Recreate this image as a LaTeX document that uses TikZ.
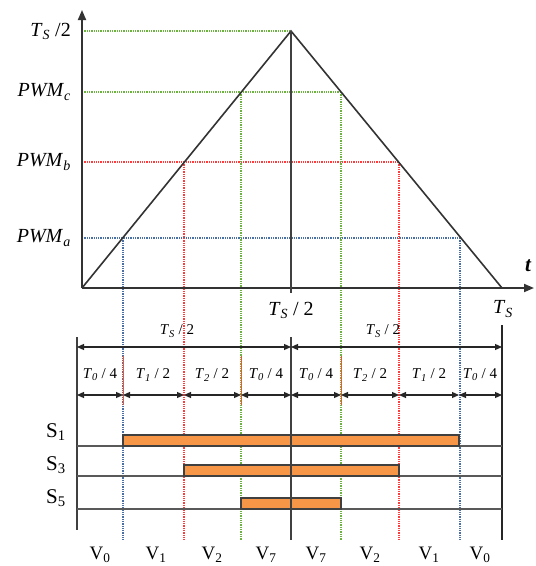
\documentclass[tikz,border=0pt]{standalone}
\usepackage{fontspec}
\setmainfont{Liberation Serif}
\usepackage{graphicx}
\usetikzlibrary{arrows.meta}
\definecolor{gline}{HTML}{6DB33F}
\definecolor{rline}{HTML}{FF3B3B}
\definecolor{bline}{HTML}{4A6FA5}
\definecolor{obar}{HTML}{F79646}
\newcommand\isub[2]{\textit{#1}\textsubscript{\textit{#2}}}
\begin{document}
\begin{tikzpicture}[x=1pt,y=-1pt,
  axisline/.style={line width=1.8pt, draw=black!80, -{Triangle[length=10pt,width=8pt]}},
  tri/.style={line width=1.6pt, draw=black!80},
  guide/.style={line width=1.1pt, dash pattern=on 1.3pt off 1pt},
  dimline/.style={line width=1.2pt, draw=black!85, {Triangle[length=7pt,width=6pt]}-{Triangle[length=7pt,width=6pt]}},
  barbox/.style={fill=obar, draw=black!75, line width=1.2pt},
  baseline/.style={line width=1.2pt, draw=black!65},
  bound/.style={line width=1.6pt, draw=black!75},
  lbl/.style={font=\fontsize{20}{22}\selectfont, inner sep=0pt},
  small/.style={font=\fontsize{15}{17}\selectfont, inner sep=0pt},
  tick/.style={line width=0.6pt, draw=rline!70!orange}
]
\useasboundingbox (0,0) rectangle (536,566);
% coordinates
\coordinate (O) at (82,288);
\coordinate (Ytop) at (82,10);
\coordinate (Xend) at (534,288);
\coordinate (P) at (291,31);
\coordinate (E) at (502,288);
\coordinate (yT) at (82,31);
\coordinate (yc) at (82,92);
\coordinate (yb) at (82,162);
\coordinate (ya) at (82,238);
\coordinate (a1) at (123,238);
\coordinate (a2) at (460,238);
\coordinate (b1) at (184,162);
\coordinate (b2) at (399,162);
\coordinate (c1) at (241,92);
\coordinate (c2) at (341,92);
\foreach \n/\x in {a1/123,a2/460,b1/184,b2/399,c1/241,c2/341}{\coordinate (\n d) at (\x,540);}
% guides
\draw[guide,gline] (yT) -- (P);
\draw[guide,gline] (yc) -- (c2);
\draw[guide,rline] (yb) -- (b2);
\draw[guide,bline] (ya) -- (a2);
\draw[guide,bline] (a1) -- (a1d);
\draw[guide,bline] (a2) -- (a2d);
\draw[guide,rline] (b1) -- (b1d);
\draw[guide,rline] (b2) -- (b2d);
\draw[guide,gline] (c1) -- (c1d);
\draw[guide,gline] (c2) -- (c2d);
% ticks
\draw[tick] (123,356) -- (123,405);
\draw[tick] (241,356) -- (241,405);
\draw[tick] (341,356) -- (341,405);
% axes and triangle
\draw[axisline] (O) -- (Ytop);
\draw[axisline] (O) -- (Xend);
\draw[tri] (O) -- (P) -- (E);
\draw[line width=1.1pt, draw=black!75] (P) -- (291,293);
% axis labels
\node[lbl, anchor=east] (lT) at (71,31) {\isub{T}{S} /2};
\node[lbl, anchor=east] (lc) at (71,92) {\isub{PWM}{c}};
\node[lbl, anchor=east] (lb) at (71,162) {\isub{PWM}{b}};
\node[lbl, anchor=east] (la) at (71,238) {\isub{PWM}{a}};
\node[font=\fontsize{21}{23}\selectfont\bfseries\itshape, inner sep=0pt] (lt) at (528,266) {t};
\node[lbl] (lmid) at (291,310) {\isub{T}{S} / 2};
\node[lbl] (lend) at (503,309) {\isub{T}{S}};
% bottom bounds
\draw[bound] (77,337) -- (77,530);
\draw[bound] (291,337) -- (291,540);
\draw[bound, line width=2pt, draw=black!85] (502,325) -- (502,540);
% dimension rows
\coordinate (d0) at (77,347);
\coordinate (d1) at (291,347);
\coordinate (d2) at (502,347);
\draw[dimline] (d0) -- (d1);
\draw[dimline] (d1) -- (d2);
\node[small] (h1) at (177,331) {\isub{T}{S} / 2};
\node[small] (h2) at (383,331) {\isub{T}{S} / 2};
\foreach \i/\x in {0/77,1/123,2/184,3/241,4/291,5/341,6/399,7/459,8/502}{\coordinate (s\i) at (\x,395);}
\foreach \i/\j in {0/1,1/2,2/3,3/4,4/5,5/6,6/7,7/8}{\draw[dimline] (s\i) -- (s\j);}
\foreach \x/\t/\d [count=\k] in {100/0/4,153/1/2,212/2/2,266/0/4,316/0/4,370/2/2,429/1/2,480/0/4}{
  \node[small] (q\k) at (\x,375) {\isub{T}{\t} / \d};}
% switching signals
\draw[baseline] (77,446) -- (502,446);
\draw[baseline] (77,476) -- (502,476);
\draw[baseline] (77,509) -- (502,509);
\draw[barbox] (123,435) rectangle (459,446);
\draw[barbox] (184,465) rectangle (399,476);
\draw[barbox] (241,498) rectangle (341,509);
\draw[bound] (291,420) -- (291,540);
\node[font=\fontsize{21}{23}\selectfont, inner sep=0pt] (S1) at (56,432) {S\textsubscript{1}};
\node[font=\fontsize{21}{23}\selectfont, inner sep=0pt] (S3) at (56,465) {S\textsubscript{3}};
\node[font=\fontsize{21}{23}\selectfont, inner sep=0pt] (S5) at (56,498) {S\textsubscript{5}};
\foreach \x/\v [count=\k] in {100/0,156/1,212/2,266/7,316/7,370/2,429/1,480/0}{
  \node[font=\fontsize{19}{22}\selectfont, inner sep=0pt] (v\k) at (\x,555) {V\textsubscript{\v}};}
\end{tikzpicture}
\end{document}
